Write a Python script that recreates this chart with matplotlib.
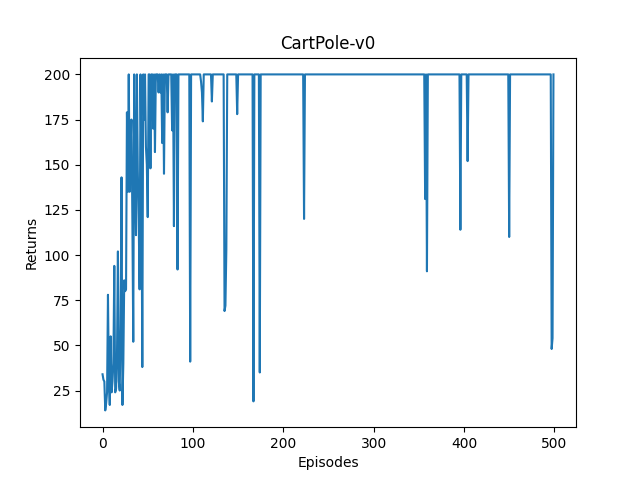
import matplotlib
matplotlib.use('Agg')
import matplotlib.pyplot as plt
import numpy as np

# returns for the first 113 episodes
early_returns = [
    34, 31, 30, 14, 18, 24, 78, 30, 17, 55,
    24, 30, 40, 94, 24, 26, 45, 102, 30, 25,
    60, 143, 17, 40, 86, 80, 81, 179, 135, 200,
    135, 160, 175, 120, 52, 200, 140, 111, 200, 147,
    120, 81, 200, 150, 38, 200, 175, 200, 160, 150,
    121, 200, 200, 148, 200, 200, 170, 200, 157, 200,
    200, 200, 190, 200, 190, 200, 162, 200, 145, 200,
    200, 200, 179, 200, 200, 200, 200, 169, 200, 116,
    200, 200, 200, 92, 200, 200, 200, 200, 200, 200,
    200, 200, 200, 200, 200, 200, 200, 41, 200, 200,
    200, 200, 200, 200, 200, 200, 200, 200, 200, 196,
    190, 174, 200,
]

# later episodes sit at 200 except for these drops
dip_episodes = [121, 135, 136, 137, 149, 167, 174, 223, 357, 359,
                396, 404, 450, 497, 498]
dip_values = [185, 69, 72, 103, 178, 19, 35, 120, 131, 91,
              114, 152, 110, 48, 54]

n_episodes = 500

returns = np.full(n_episodes, 200.0)
returns[:len(early_returns)] = early_returns
returns[dip_episodes] = dip_values
episodes = np.arange(n_episodes)

fig, ax = plt.subplots(figsize=(6.4, 4.8), dpi=100)
ax.plot(episodes, returns)
ax.set_xlabel('Episodes')
ax.set_ylabel('Returns')
ax.set_title('CartPole-v0')

plt.savefig('out.png')
